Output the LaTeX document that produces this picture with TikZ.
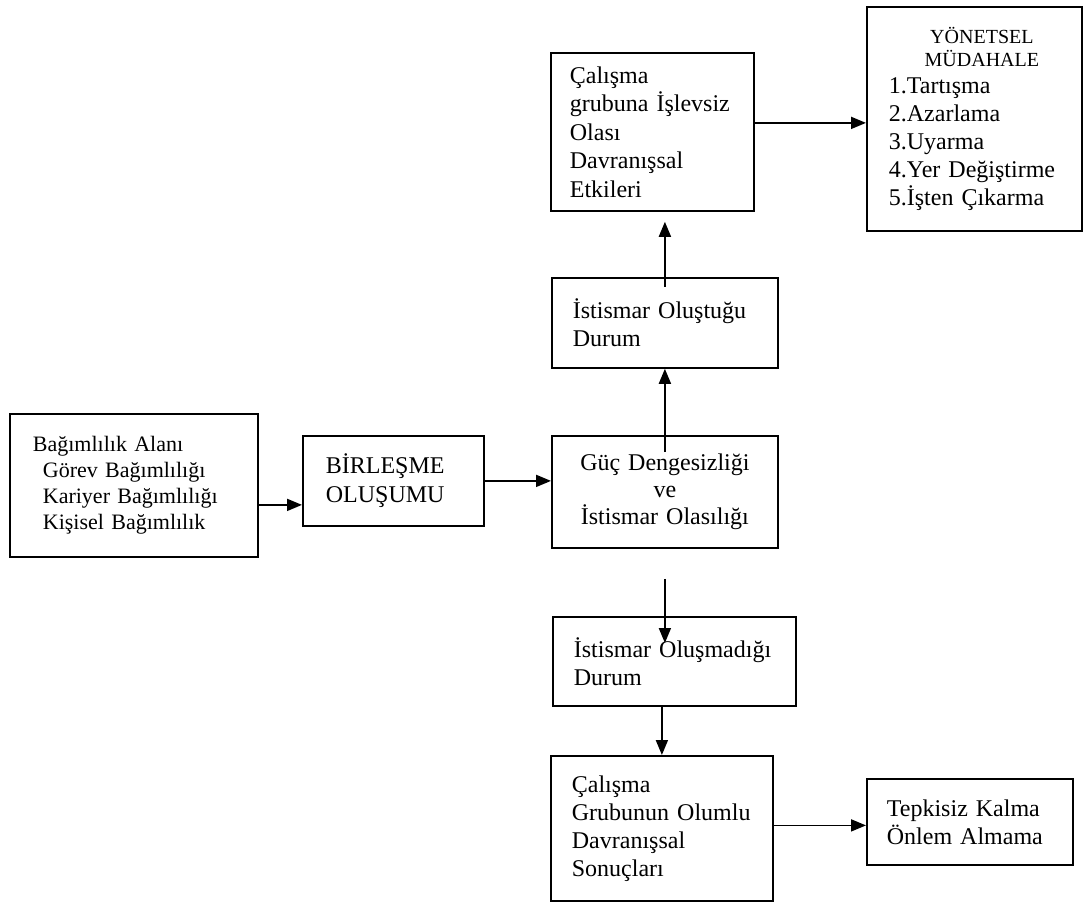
\documentclass[tikz,border=0pt]{standalone}
\usepackage{fontspec}
\setmainfont{Liberation Serif}
\usetikzlibrary{arrows.meta,calc}
\begin{document}
\begin{tikzpicture}[x=1pt,y=-1pt,
  box/.style={draw, line width=1.8pt, rectangle, anchor=north west,
    inner ysep=0pt, align=left, font=\fontsize{24}{28}\selectfont},
  arr/.style={line width=1.8pt, -{Triangle[length=15pt,width=12pt]}}]
\useasboundingbox (0,0) rectangle (1085,909);

% boxes
\node[box, minimum width=248pt, minimum height=143pt, inner xsep=23pt, text width=202pt,
  font=\fontsize{22}{26}\selectfont] (dep) at (9,413)
  {Bağımlılık Alanı\\ \hspace*{10pt}Görev Bağımlılığı\\ \hspace*{10pt}Kariyer Bağımlılığı\\ \hspace*{10pt}Kişisel Bağımlılık};
\node[box, minimum width=181pt, minimum height=90pt, inner xsep=23pt, text width=135pt,
  font=\fontsize{24}{29}\selectfont] (bir) at (302,435)
  {BİRLEŞME\\OLUŞUMU};
\node[box, minimum width=226pt, minimum height=112pt, inner xsep=10pt, text width=206pt,
  align=center, font=\fontsize{24}{27}\selectfont] (guc) at (551,435)
  {Güç Dengesizliği\\ve\\İstismar Olasılığı};
\node[box, minimum width=226pt, minimum height=90pt, inner xsep=21pt, text width=184pt] (olu) at (551,277)
  {İstismar Oluştuğu\\Durum};
\node[box, minimum width=203pt, minimum height=158pt, inner xsep=19pt, text width=165pt,
  font=\fontsize{24}{28.5}\selectfont] (cal) at (550,52)
  {Çalışma\\grubuna İşlevsiz\\Olası\\Davranışsal\\Etkileri};
\node[box, minimum width=215pt, minimum height=224pt, inner xsep=22pt, text width=171pt] (yon) at (866,6)
  {{\fontsize{20}{23}\selectfont\makebox[171pt]{\hspace{15pt}YÖNETSEL}\\[-5pt]\makebox[171pt]{\hspace{15pt}MÜDAHALE}}\\[-1pt]
   1.Tartışma\\2.Azarlama\\3.Uyarma\\4.Yer Değiştirme\\5.İşten Çıkarma};
\node[box, minimum width=243pt, minimum height=89pt, inner xsep=21pt, text width=201pt] (olm) at (552,616)
  {İstismar Oluşmadığı\\Durum};
\node[box, minimum width=222pt, minimum height=145pt, inner xsep=21pt, text width=180pt] (olumlu) at (550,755)
  {Çalışma\\Grubunun Olumlu\\Davranışsal\\Sonuçları};
\node[box, minimum width=206pt, minimum height=86pt, inner xsep=20pt, text width=166pt] (tep) at (866,778)
  {Tepkisiz Kalma\\Önlem Almama};

% connector end points
\coordinate (a1) at ([yshift=-19.5pt]dep.east);
\coordinate (a3) at ([yshift=-17pt]guc.north);
\coordinate (a4) at ([yshift=-10pt]olu.north);
\coordinate (a4e) at ([yshift=-10pt]cal.south);
\coordinate (a5) at ([yshift=9pt]cal.east);
\coordinate (a6) at ([yshift=-30pt]guc.south);
\coordinate (a6e) at ([yshift=-27pt]olm.north);
\coordinate (a8) at ([yshift=3pt]olumlu.east);

% connectors
\draw[arr] (a1) -- (a1 -| bir.west);
\draw[arr] (bir.east) -- (bir.east -| guc.west);
\draw[arr] (a3) -- (a3 |- olu.south);
\draw[arr] (a4) -- (a4 |- a4e);
\draw[arr] (a5) -- (a5 -| yon.west);
\draw[arr] (a6) -- (a6 |- a6e);
\draw[arr] (olumlu.north |- olm.south) -- (olumlu.north);
\draw[arr] (a8) -- (a8 -| tep.west);
\end{tikzpicture}
\end{document}
